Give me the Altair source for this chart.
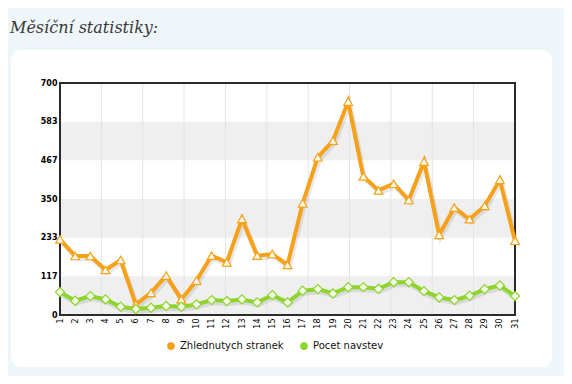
import altair as alt
import pandas as pd

days = list(range(1, 32))
pageviews = [228, 178, 178, 136, 166, 32, 67, 119, 47, 104, 179, 159, 290, 179, 184, 151,
             337, 476, 526, 644, 418, 376, 396, 347, 463, 242, 324, 289, 329, 408, 224]
visits = [69, 43, 57, 47, 25, 18, 22, 27, 25, 32, 45, 42, 47, 38, 60, 38,
          73, 78, 65, 84, 84, 79, 99, 99, 72, 53, 45, 58, 78, 89, 57]
series_names = ["Zhlednutych stranek", "Pocet navstev"]
series_colors = ["#F7A11A", "#8DD42C"]
y_ticks = [0, 117, 233, 350, 467, 583, 700]
band_lo = [0, 233, 467]
band_hi = [117, 350, 583]
grid_days = [1 + 30 * k / 11 for k in range(1, 11)]

W, H = 455, 232

df = pd.DataFrame({
    "day": days * 2,
    "value": pageviews + visits,
    "series": [series_names[0]] * 31 + [series_names[1]] * 31,
})
bands = pd.DataFrame({"lo": band_lo, "hi": band_hi})
grid = pd.DataFrame({"d": grid_days})
one = pd.DataFrame({"a": [0]})

xs = alt.Scale(domain=[1, 31], nice=False)
ys = alt.Scale(domain=[0, 700], nice=False)
x_axis = alt.Axis(
    values=days, labelAngle=270, labelFont="DejaVu Sans", labelFontSize=8,
    labelColor="#000", ticks=False, domain=False, grid=False, title=None,
    labelPadding=3, labelFlush=False, labelOverlap=False, zindex=5)
y_axis = alt.Axis(
    values=y_ticks, labelFont="DejaVu Sans", labelFontSize=8, labelFontWeight="bold",
    labelColor="#000", ticks=False, domain=False, grid=False, title=None,
    labelPadding=3, labelFlush=False, labelOverlap=False, zindex=5)

color = alt.Color("series:N", scale=alt.Scale(domain=series_names, range=series_colors),
                  legend=alt.Legend(title=None, orient="none", legendX=106, legendY=258,
                                    direction="horizontal", symbolType="circle",
                                    symbolSize=14, symbolStrokeWidth=4, columnPadding=10,
                                    labelFont="DejaVu Sans", labelFontSize=10,
                                    labelColor="#111", symbolOffset=0))

panel = alt.Chart(one).mark_rect(fill="white", cornerRadius=10).encode(
    x=alt.value(-49), x2=alt.value(492), y=alt.value(-33), y2=alt.value(284))

title = alt.Chart(one).mark_text(
    text="Měsíční statistiky:", font="DejaVu Serif", fontStyle="italic", fontSize=16,
    color="#3a3a3a", align="left", baseline="alphabetic").encode(
    x=alt.value(-50), y=alt.value(-50))

band_layer = alt.Chart(bands).mark_rect(fill="#efefef").encode(
    y=alt.Y("lo:Q", scale=ys, axis=y_axis), y2="hi:Q", x=alt.value(0), x2=alt.value(W))

grid_layer = alt.Chart(grid).mark_rule(color="#e3e3e3", strokeWidth=1).encode(
    x=alt.X("d:Q", scale=xs, axis=x_axis), y=alt.value(0), y2=alt.value(H))

frame = alt.Chart(one).mark_rect(fill=None, stroke="#2b2b2b", strokeWidth=2).encode(
    x=alt.value(0), x2=alt.value(W), y=alt.value(0), y2=alt.value(H))

base = alt.Chart(df)
xenc = alt.X("day:Q", scale=xs, axis=x_axis)
yenc = alt.Y("value:Q", scale=ys, axis=y_axis)

shadow = base.mark_line(strokeWidth=5, color="#000", opacity=0.09, xOffset=1.5, yOffset=2.5).encode(
    x=xenc, y=yenc, detail="series:N")

lines = base.mark_line(strokeWidth=4).encode(x=xenc, y=yenc, color=color)

tri = alt.Chart(df[df.series == series_names[0]]).mark_point(
    shape="triangle-up", size=75, filled=True, fill="#FFFBEA", stroke=series_colors[0],
    strokeWidth=1.2, opacity=1).encode(x=xenc, y=yenc)

dia = alt.Chart(df[df.series == series_names[1]]).mark_point(
    shape="diamond", size=85, filled=True, fill="#F4FDE6", stroke=series_colors[1],
    strokeWidth=1.2, opacity=1).encode(x=xenc, y=yenc)

chart = alt.layer(panel, title, band_layer, grid_layer, frame, shadow, lines, tri, dia).properties(
    width=W, height=H,
    autosize=alt.AutoSizeParams(type="none"),
    padding={"left": 52, "top": 75, "right": 49, "bottom": 61},
    background="#EEF6F9",
).configure_view(stroke=None).configure_axis(labelOverlap=False)

chart.save("out.html", embed_options={"renderer": "svg", "actions": False})
